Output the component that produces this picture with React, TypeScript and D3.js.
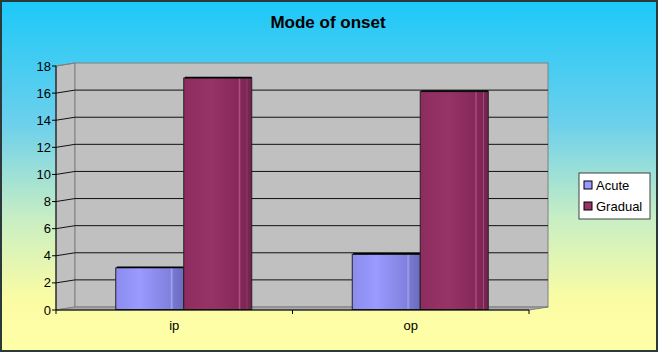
import React from "react";
import * as d3 from "d3";

const title = "Mode of onset";
const categories = ["ip", "op"];
const seriesNames = ["Acute", "Gradual"];
const acute = [3, 4];
const gradual = [17, 16];
const yTicks = [0, 2, 4, 6, 8, 10, 12, 14, 16, 18];
const seriesColors = ["#9999ff", "#993366"];

const W = 658;
const H = 352;

export default function App() {
  const x0 = 56, x1 = 529;
  const dx = 19, dy = -3;
  const y = d3.scaleLinear().domain([0, 18]).range([310, 66]);
  const xBand = d3.scaleBand<string>().domain(categories).range([x0, x1]).paddingInner(0).paddingOuter(0);
  const series = [acute, gradual];
  const bw = 68;
  const shift = dx / 2;
  const by = dy / 2;

  return (
    <svg width={W} height={H} style={{ position: "absolute", left: 0, top: 0 }} fontFamily="Arial, 'Liberation Sans', sans-serif">
      <defs>
        <linearGradient id="bg" x1="0" y1="0" x2="0" y2="1">
          <stop offset="0" stopColor="#1cc8f8" />
          <stop offset="0.35" stopColor="#6cd0ec" />
          <stop offset="0.62" stopColor="#c8eec4" />
          <stop offset="0.85" stopColor="#fafca4" />
          <stop offset="1" stopColor="#ffffa8" />
        </linearGradient>
        <linearGradient id="g0" x1="0" y1="0" x2="1" y2="0">
          <stop offset="0" stopColor="#8c8cee" />
          <stop offset="0.35" stopColor="#9a9aff" />
          <stop offset="0.8" stopColor="#8080dd" />
          <stop offset="0.82" stopColor="#a0a0f0" />
          <stop offset="0.85" stopColor="#7878d0" />
          <stop offset="1" stopColor="#6a6ac0" />
        </linearGradient>
        <linearGradient id="g1" x1="0" y1="0" x2="1" y2="0">
          <stop offset="0" stopColor="#8e2c60" />
          <stop offset="0.4" stopColor="#963466" />
          <stop offset="0.8" stopColor="#86295a" />
          <stop offset="0.82" stopColor="#b0507e" />
          <stop offset="0.84" stopColor="#822858" />
          <stop offset="0.92" stopColor="#7c2654" />
          <stop offset="0.93" stopColor="#a84a78" />
          <stop offset="0.94" stopColor="#7a2452" />
          <stop offset="1" stopColor="#732250" />
        </linearGradient>
      </defs>
      <rect x={1} y={1} width={W - 2} height={H - 2} fill="url(#bg)" stroke="#2a3a3a" strokeWidth={2} />
      <text x={328} y={28} textAnchor="middle" fontSize={17} fontWeight="bold" fill="#000">{title}</text>

      {/* left side wall */}
      <polygon points={`${x0},${y(18)} ${x0 + dx},${y(18) + dy} ${x0 + dx},${y(0) + dy} ${x0},${y(0)}`} fill="#c0c0c0" stroke="#808080" strokeWidth={1} />
      {/* back wall */}
      <rect x={x0 + dx} y={y(18) + dy} width={x1 - x0} height={y(0) - y(18)} fill="#c0c0c0" stroke="#808080" strokeWidth={1} />
      {/* floor */}
      <polygon points={`${x0},${y(0)} ${x0 + dx},${y(0) + dy} ${x1 + dx},${y(0) + dy} ${x1},${y(0)}`} fill="#a8a8a8" stroke="#808080" strokeWidth={1} />

      {/* gridlines */}
      {yTicks.filter(t => t > 0 && t < 18).map(t => (
        <polyline key={t} points={`${x0},${y(t)} ${x0 + dx},${y(t) + dy} ${x1 + dx},${y(t) + dy}`} fill="none" stroke="#111" strokeWidth={1} />
      ))}
      <polyline points={`${x0},${y(18)} ${x0 + dx},${y(18) + dy}`} fill="none" stroke="#808080" strokeWidth={1} />

      {/* bars */}
      {categories.map((c, i) => {
        const cx = (xBand(c) as number) + xBand.bandwidth() / 2 + shift;
        return series.map((s, j) => {
          const bx = cx - bw + j * bw;
          const top = y(s[i]) + by;
          const bottom = y(0) + by + 1;
          return (
            <g key={c + j}>
              <rect x={bx} y={top} width={bw} height={bottom - top} fill={`url(#g${j})`} stroke="#222" strokeWidth={1} />
              <line x1={bx + 1} y1={top - 0.5} x2={bx + bw} y2={top - 0.5} stroke="#000" strokeWidth={1.5} />
            </g>
          );
        });
      })}

      {/* y axis */}
      <line x1={x0} y1={y(0)} x2={x0} y2={y(18)} stroke="#000" strokeWidth={1} />
      {yTicks.map(t => (
        <g key={t}>
          <line x1={x0 - 4} y1={y(t)} x2={x0} y2={y(t)} stroke="#000" />
          <text x={x0 - 5} y={y(t) + 4.5} textAnchor="end" fontSize={13} fill="#000">{t}</text>
        </g>
      ))}
      {/* x axis */}
      <line x1={x0} y1={y(0)} x2={x1} y2={y(0)} stroke="#000" strokeWidth={1} />
      {[x0, x0 + xBand.bandwidth(), x1].map((tx, k) => (
        <line key={k} x1={tx} y1={y(0)} x2={tx} y2={y(0) + 4} stroke="#000" />
      ))}
      {categories.map(c => (
        <text key={c} x={(xBand(c) as number) + xBand.bandwidth() / 2} y={y(0) + 20} textAnchor="middle" fontSize={13} fill="#000">{c}</text>
      ))}

      {/* legend */}
      <rect x={579} y={173} width={71} height={46} fill="#fff" stroke="#404040" strokeWidth={1} />
      {seriesNames.map((n, i) => (
        <g key={n}>
          <rect x={584} y={181 + i * 21} width={8} height={8} fill={seriesColors[i]} stroke="#000" strokeWidth={1} />
          <text x={596} y={190 + i * 21} fontSize={13} fill="#000">{n}</text>
        </g>
      ))}
    </svg>
  );
}
